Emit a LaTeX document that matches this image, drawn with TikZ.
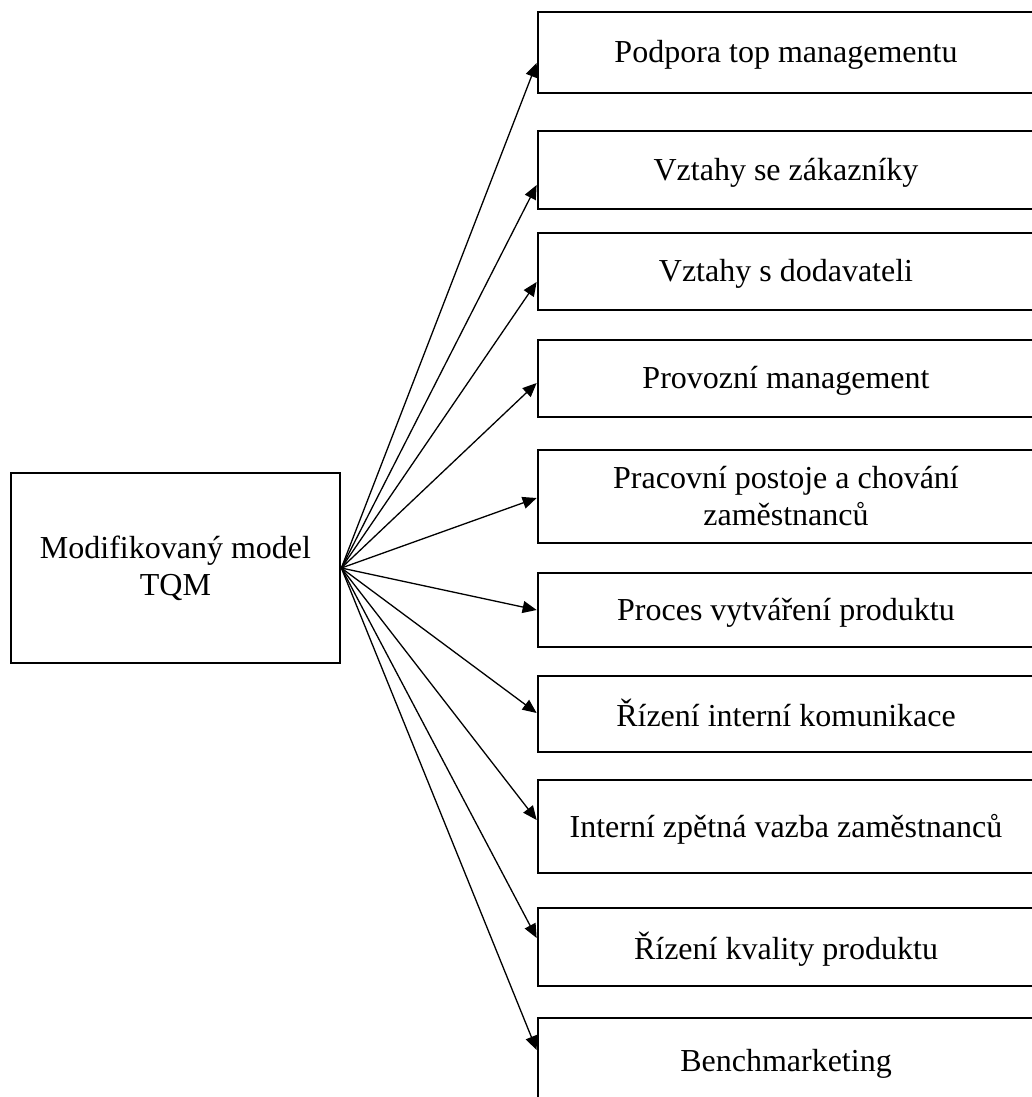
\documentclass[tikz,border=0pt]{standalone}
\usepackage{fontspec}
\setmainfont{Liberation Serif}
\usetikzlibrary{arrows.meta}

\tikzset{
  item/.style={draw, line width=2.7bp, rectangle, minimum width=496bp,
    align=center, inner sep=0pt, text depth=2bp,
    font=\fontsize{32bp}{37bp}\selectfont},
  hub/.style={draw, line width=2.7bp, rectangle, minimum width=329bp,
    minimum height=190bp, align=center, inner sep=0pt,
    font=\fontsize{32bp}{37bp}\selectfont},
  link/.style={line width=1.3bp, -{Triangle[length=14bp,width=12bp]}}
}

\begin{document}
\begin{tikzpicture}[x=1bp, y=-1bp]
  \useasboundingbox (0,0) rectangle (1032,1097);
  \clip (0,0) rectangle (1032,1097);

  % central box
  \node[hub] (m) at (175.5,568) {Modifikovaný model\\TQM};

  % factor boxes on the right
  \node[item, minimum height=81bp] (b1)  at (786,52.5)  {Podpora top managementu};
  \node[item, minimum height=78bp] (b2)  at (786,170)   {Vztahy se zákazníky};
  \node[item, minimum height=77bp] (b3)  at (786,271.5) {Vztahy s dodavateli};
  \node[item, minimum height=77bp] (b4)  at (786,378.5) {Provozní management};
  \node[item, minimum height=93bp] (b5)  at (786,496.5) {Pracovní postoje a chování\\zaměstnanců};
  \node[item, minimum height=74bp] (b6)  at (786,610)   {Proces vytváření produktu};
  \node[item, minimum height=76bp] (b7)  at (786,714)   {Řízení interní komunikace};
  \node[item, minimum height=93bp] (b8)  at (786,826.5) {Interní zpětná vazba zaměstnanců};
  \node[item, minimum height=78bp] (b9)  at (786,947)   {Řízení kvality produktu};
  \node[item, minimum height=86bp] (b10) at (786,1061)  {Benchmarketing};

  % arrows fanning out from the central box
  \draw[link] (m.east) -- ([yshift=-10.5bp]b1.west);
  \draw[link] (m.east) -- ([yshift=-15bp]b2.west);
  \draw[link] (m.east) -- ([yshift=-10.5bp]b3.west);
  \draw[link] (m.east) -- ([yshift=-4.5bp]b4.west);
  \draw[link] (m.east) -- ([yshift=-1.5bp]b5.west);
  \draw[link] (m.east) -- (b6.west);
  \draw[link] (m.east) -- ([yshift=1bp]b7.west);
  \draw[link] (m.east) -- ([yshift=6.5bp]b8.west);
  \draw[link] (m.east) -- ([yshift=9bp]b9.west);
  \draw[link] (m.east) -- ([yshift=11bp]b10.west);
\end{tikzpicture}
\end{document}
